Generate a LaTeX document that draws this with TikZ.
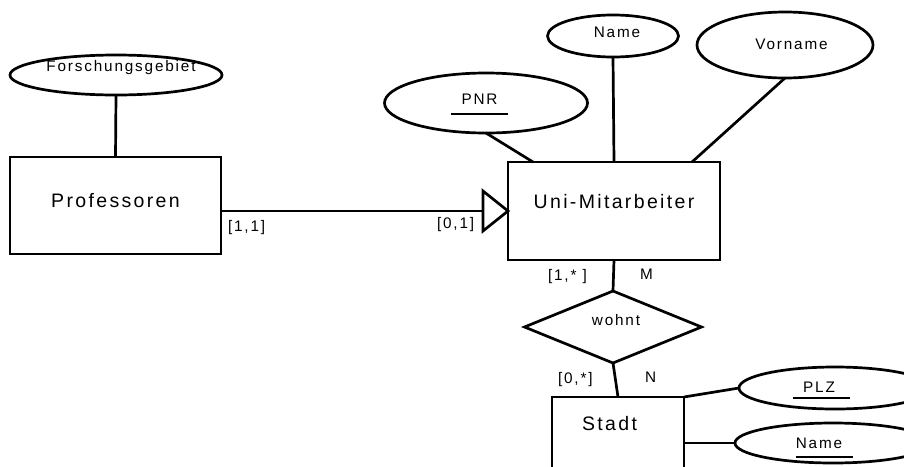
\documentclass[tikz,border=0pt]{standalone}
\usepackage{fontspec}
\setmainfont{Liberation Sans}[LetterSpace=12]
\usetikzlibrary{shapes.geometric,calc}
\newcommand\entfont{\fontsize{19.5pt}{22pt}\selectfont}
\newcommand\attfont{\fontsize{15.3pt}{17pt}\selectfont}
\newcommand\placetxt[3]{\makebox[0pt]{\kern#1pt\relax\raisebox{#2pt}[0pt][0pt]{#3}}}
\begin{document}
\begin{tikzpicture}[x=1pt,y=-1pt,
  every node/.style={inner sep=0pt, outer sep=0pt},
  ln/.style={line width=2.7pt},
  entity/.style={draw, line width=2.7pt, rectangle, font=\entfont},
  attr/.style={draw, line width=2.7pt, ellipse, font=\attfont},
  rel/.style={draw, line width=2.7pt, diamond, font=\attfont},
  card/.style={anchor=base west, font=\attfont}]
\clip (0,0) rectangle (904,466);
\fill[white] (0,0) rectangle (904,466);
% nodes
\node[attr, minimum width=212pt, minimum height=40pt] (forsch) at (116,75) {\placetxt{10}{4}{Forschungsgebiet}};
\node[entity, minimum width=211pt, minimum height=97pt] (prof) at (115.5,205.5) {\placetxt{0}{-1.5}{Professoren}};
\node[entity, minimum width=212pt, minimum height=98pt] (uni) at (614,211) {\placetxt{0}{3}{Uni-Mitarbeiter}};
\node[attr, minimum width=203pt, minimum height=60pt] (pnr) at (486,103) {\placetxt{-13}{-1}{PNR}};
\node[attr, minimum width=131pt, minimum height=42pt] (name1) at (613,36) {\placetxt{8}{-1}{Name}};
\node[attr, minimum width=176pt, minimum height=66pt] (vorname) at (785,45) {\placetxt{13}{-4}{Vorname}};
\node[rel, minimum width=177pt, minimum height=72pt] (wohnt) at (613,327) {\placetxt{6}{2}{wohnt}};
\node[entity, minimum width=132pt, minimum height=100pt] (stadt) at (618,447) {\placetxt{-17}{17}{Stadt}};
\node[attr, minimum width=192pt, minimum height=42pt] (plz) at (835,388) {\placetxt{-32}{-4}{PLZ}};
\node[attr, minimum width=196pt, minimum height=40pt] (name2) at (833,443) {\placetxt{-28}{-5}{Name}};
% connectors
\draw[ln] (forsch.south) -- (prof.north);
\draw[ln] (pnr.south) -- ($(uni.north west)+(25,0)$);
\draw[ln] (name1.south) -- (uni.north);
\draw[ln] (vorname.south) -- ($(uni.north east)+(-28,0)$);
\draw[ln] (uni.south) -- (wohnt.north);
\draw[ln] (wohnt.south) -- (stadt.north);
\draw[ln] (stadt.north east) -- (plz.west);
\draw[ln] (name2.west -| stadt.east) -- (name2.west);
\draw[ln] (uni.west -| prof.east) -- ($(uni.west)+(-25,0)$);
\draw[ln, line join=miter] (uni.west) -- ++(-25,-20) -- ++(0,40) -- cycle;
% key underlines
\draw[ln] ($(pnr.center)+(-35,11)$) -- ++(57,0);
\draw[ln] ($(plz.center)+(-42,10)$) -- ++(57,0);
\draw[ln] ($(name2.center)+(-37,14)$) -- ++(57,0);
% cardinalities
\node[card] (c1) at (228,231) {[1,1]};
\node[card] (c2) at (437,228) {[0,1]};
\node[card] (c3) at (548,280) {[1,* ]};
\node[card] (c4) at (640,279) {M};
\node[card] (c5) at (558,383) {[0,*]};
\node[card] (c6) at (645,382) {N};
\end{tikzpicture}
\end{document}
